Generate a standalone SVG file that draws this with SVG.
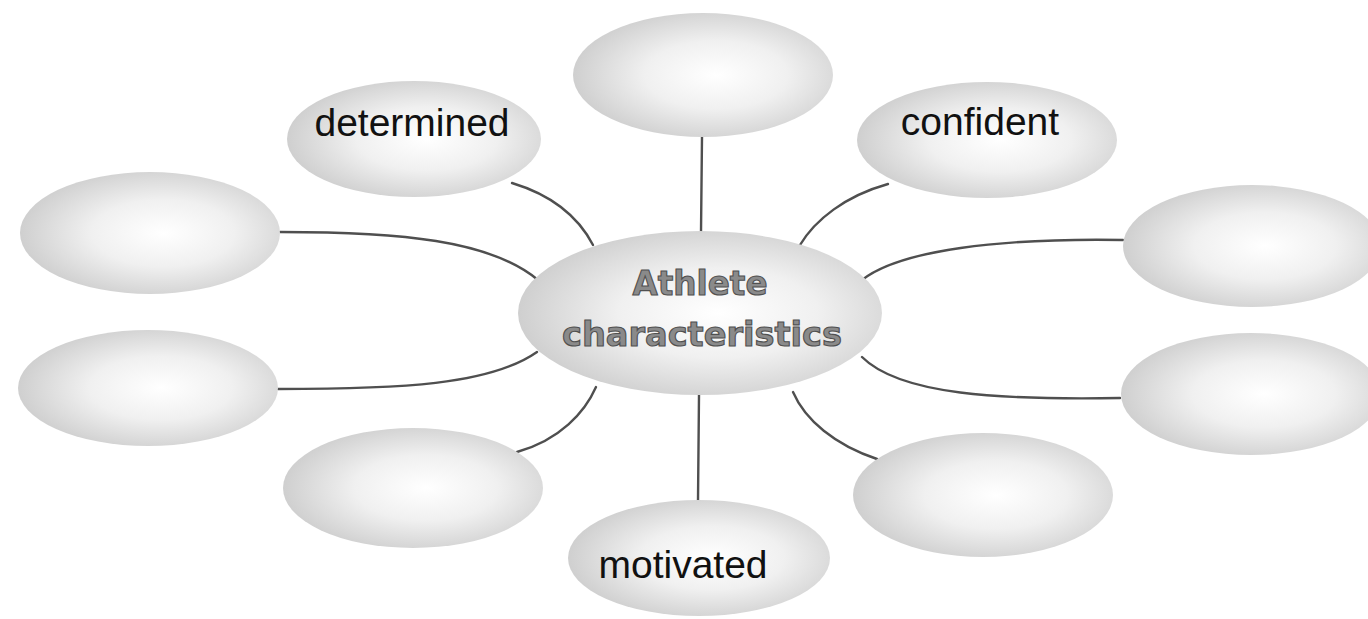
<svg xmlns="http://www.w3.org/2000/svg" width="1368" height="619" viewBox="0 0 1368 619">
<defs>
<radialGradient id="bub" cx="0.55" cy="0.5" r="0.55">
<stop offset="0" stop-color="#ffffff"/>
<stop offset="0.5" stop-color="#f0f0f0"/>
<stop offset="1" stop-color="#cfcfcf"/>
</radialGradient>
</defs>
<style>
.node ellipse{fill:url(#bub);stroke:none}
.conn path{fill:none;stroke:#4f4f4f;stroke-width:2.4;stroke-linecap:round}
.lbl{font-family:"Liberation Sans",Arial,sans-serif;font-size:39px;fill:#111;text-anchor:middle}
.ctr{font-family:"DejaVu Sans",sans-serif;font-weight:bold;font-size:33px;fill:#8a8a8a;stroke:#505050;stroke-width:1.1;text-anchor:middle}
</style>
<rect width="1368" height="619" fill="#ffffff"/>
<g id="connectors" class="conn">
<path d="M702,137 L701,232"/>
<path d="M512,183 C555,196 580,220 593,245"/>
<path d="M888,184 C845,196 815,220 800,245"/>
<path d="M280,232 C400,232 490,240 538,280"/>
<path d="M278,389 C400,389 490,385 537,352"/>
<path d="M1123,240 C1000,238 900,250 862,280"/>
<path d="M1120,398 C1000,400 900,395 862,357"/>
<path d="M517,452 C560,440 585,412 596,387"/>
<path d="M877,459 C835,445 805,420 793,392"/>
<path d="M699,395 L698,500"/>
</g>
<g id="n-top" class="node"><ellipse cx="703" cy="75" rx="130" ry="62"/></g>
<g id="n-determined" class="node"><ellipse cx="414" cy="139" rx="127" ry="58"/><text class="lbl" x="412" y="136">determined</text></g>
<g id="n-confident" class="node"><ellipse cx="987" cy="140" rx="130" ry="58"/><text class="lbl" x="980" y="135">confident</text></g>
<g id="n-left-upper" class="node"><ellipse cx="150" cy="233" rx="130" ry="61"/></g>
<g id="n-left-lower" class="node"><ellipse cx="148" cy="388" rx="130" ry="58"/></g>
<g id="n-right-upper" class="node"><ellipse cx="1252" cy="246" rx="129" ry="61"/></g>
<g id="n-right-lower" class="node"><ellipse cx="1251" cy="394" rx="130" ry="61"/></g>
<g id="n-bottom-left" class="node"><ellipse cx="413" cy="488" rx="130" ry="60"/></g>
<g id="n-bottom-right" class="node"><ellipse cx="983" cy="495" rx="130" ry="62"/></g>
<g id="n-motivated" class="node"><ellipse cx="699" cy="558" rx="131" ry="58"/><text class="lbl" x="683" y="578">motivated</text></g>
<g id="n-center" class="node"><ellipse cx="700" cy="313" rx="182" ry="82"/>
<text class="ctr" x="700" y="295" textLength="135" lengthAdjust="spacingAndGlyphs">Athlete</text>
<text class="ctr" x="702" y="346" textLength="280" lengthAdjust="spacingAndGlyphs">characteristics</text>
</g>
</svg>
